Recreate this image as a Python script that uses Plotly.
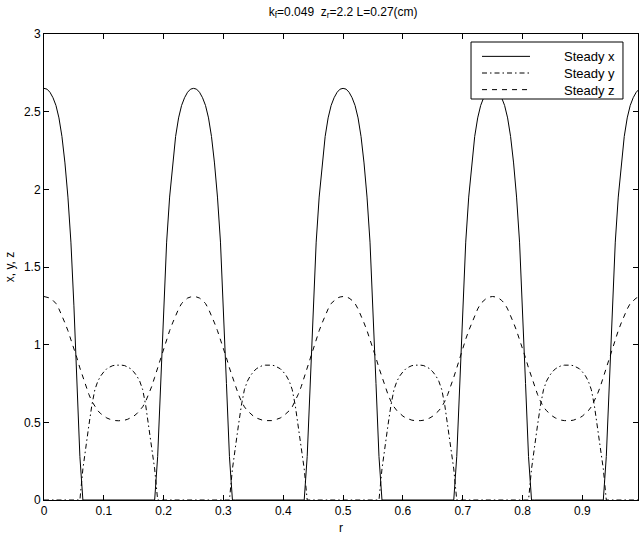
import plotly.graph_objects as go

# radial coordinate, 0 to 1 in steps of 0.005
r = [round(i * 0.005, 3) for i in range(201)]

# steady-state profiles (one row per quarter period of r)
steady_x = [
    2.65, 2.645, 2.625, 2.59, 2.54, 2.46, 2.34, 2.17, 1.95, 1.66, 1.25, 0.75, 0.28,
    0, 0, 0, 0, 0, 0, 0, 0, 0, 0, 0, 0, 0, 0, 0, 0, 0, 0, 0, 0, 0, 0, 0, 0, 0,
    0.28, 0.75, 1.25, 1.66, 1.95, 2.17, 2.34, 2.46, 2.54, 2.59, 2.625, 2.645,
    2.65, 2.645, 2.625, 2.59, 2.54, 2.46, 2.34, 2.17, 1.95, 1.66, 1.25, 0.75, 0.28,
    0, 0, 0, 0, 0, 0, 0, 0, 0, 0, 0, 0, 0, 0, 0, 0, 0, 0, 0, 0, 0, 0, 0, 0, 0,
    0.28, 0.75, 1.25, 1.66, 1.95, 2.17, 2.34, 2.46, 2.54, 2.59, 2.625, 2.645,
    2.65, 2.645, 2.625, 2.59, 2.54, 2.46, 2.34, 2.17, 1.95, 1.66, 1.25, 0.75, 0.28,
    0, 0, 0, 0, 0, 0, 0, 0, 0, 0, 0, 0, 0, 0, 0, 0, 0, 0, 0, 0, 0, 0, 0, 0, 0,
    0.28, 0.75, 1.25, 1.66, 1.95, 2.17, 2.34, 2.46, 2.54, 2.59, 2.625, 2.645,
    2.65, 2.645, 2.625, 2.59, 2.54, 2.46, 2.34, 2.17, 1.95, 1.66, 1.25, 0.75, 0.28,
    0, 0, 0, 0, 0, 0, 0, 0, 0, 0, 0, 0, 0, 0, 0, 0, 0, 0, 0, 0, 0, 0, 0, 0, 0,
    0.28, 0.75, 1.25, 1.66, 1.95, 2.17, 2.34, 2.46, 2.54, 2.59, 2.625, 2.645,
    2.65,
]

steady_y = [
    0, 0, 0, 0, 0, 0, 0, 0, 0, 0, 0, 0, 0,
    0.20, 0.35, 0.48, 0.61, 0.71, 0.765, 0.80, 0.825, 0.845, 0.856, 0.865, 0.868, 0.87,
    0.868, 0.865, 0.856, 0.845, 0.825, 0.80, 0.765, 0.71, 0.61, 0.48, 0.35, 0.20,
    0, 0, 0, 0, 0, 0, 0, 0, 0, 0, 0, 0,
    0, 0, 0, 0, 0, 0, 0, 0, 0, 0, 0, 0, 0,
    0.20, 0.35, 0.48, 0.61, 0.71, 0.765, 0.80, 0.825, 0.845, 0.856, 0.865, 0.868, 0.87,
    0.868, 0.865, 0.856, 0.845, 0.825, 0.80, 0.765, 0.71, 0.61, 0.48, 0.35, 0.20,
    0, 0, 0, 0, 0, 0, 0, 0, 0, 0, 0, 0,
    0, 0, 0, 0, 0, 0, 0, 0, 0, 0, 0, 0, 0,
    0.20, 0.35, 0.48, 0.61, 0.71, 0.765, 0.80, 0.825, 0.845, 0.856, 0.865, 0.868, 0.87,
    0.868, 0.865, 0.856, 0.845, 0.825, 0.80, 0.765, 0.71, 0.61, 0.48, 0.35, 0.20,
    0, 0, 0, 0, 0, 0, 0, 0, 0, 0, 0, 0,
    0, 0, 0, 0, 0, 0, 0, 0, 0, 0, 0, 0, 0,
    0.20, 0.35, 0.48, 0.61, 0.71, 0.765, 0.80, 0.825, 0.845, 0.856, 0.865, 0.868, 0.87,
    0.868, 0.865, 0.856, 0.845, 0.825, 0.80, 0.765, 0.71, 0.61, 0.48, 0.35, 0.20,
    0, 0, 0, 0, 0, 0, 0, 0, 0, 0, 0, 0,
    0,
]

steady_z = [
    1.31, 1.307, 1.30, 1.285, 1.265, 1.23, 1.19, 1.14, 1.09, 1.035, 0.98, 0.915, 0.85,
    0.79, 0.73, 0.68, 0.635, 0.60, 0.575, 0.555, 0.54, 0.528, 0.52, 0.514, 0.511, 0.51,
    0.511, 0.514, 0.52, 0.528, 0.54, 0.555, 0.575, 0.60, 0.635, 0.68, 0.73, 0.79,
    0.85, 0.915, 0.98, 1.035, 1.09, 1.14, 1.19, 1.23, 1.265, 1.285, 1.30, 1.307,
    1.31, 1.307, 1.30, 1.285, 1.265, 1.23, 1.19, 1.14, 1.09, 1.035, 0.98, 0.915, 0.85,
    0.79, 0.73, 0.68, 0.635, 0.60, 0.575, 0.555, 0.54, 0.528, 0.52, 0.514, 0.511, 0.51,
    0.511, 0.514, 0.52, 0.528, 0.54, 0.555, 0.575, 0.60, 0.635, 0.68, 0.73, 0.79,
    0.85, 0.915, 0.98, 1.035, 1.09, 1.14, 1.19, 1.23, 1.265, 1.285, 1.30, 1.307,
    1.31, 1.307, 1.30, 1.285, 1.265, 1.23, 1.19, 1.14, 1.09, 1.035, 0.98, 0.915, 0.85,
    0.79, 0.73, 0.68, 0.635, 0.60, 0.575, 0.555, 0.54, 0.528, 0.52, 0.514, 0.511, 0.51,
    0.511, 0.514, 0.52, 0.528, 0.54, 0.555, 0.575, 0.60, 0.635, 0.68, 0.73, 0.79,
    0.85, 0.915, 0.98, 1.035, 1.09, 1.14, 1.19, 1.23, 1.265, 1.285, 1.30, 1.307,
    1.31, 1.307, 1.30, 1.285, 1.265, 1.23, 1.19, 1.14, 1.09, 1.035, 0.98, 0.915, 0.85,
    0.79, 0.73, 0.68, 0.635, 0.60, 0.575, 0.555, 0.54, 0.528, 0.52, 0.514, 0.511, 0.51,
    0.511, 0.514, 0.52, 0.528, 0.54, 0.555, 0.575, 0.60, 0.635, 0.68, 0.73, 0.79,
    0.85, 0.915, 0.98, 1.035, 1.09, 1.14, 1.19, 1.23, 1.265, 1.285, 1.30, 1.307,
    1.31,
]

series_names = ["Steady x", "Steady y", "Steady z"]
series_dash = ["solid", "5px,3px,1.5px,3px", "5px,5px"]

x_ticks = [0, 0.1, 0.2, 0.3, 0.4, 0.5, 0.6, 0.7, 0.8, 0.9]
x_tick_text = ["0", "0.1", "0.2", "0.3", "0.4", "0.5", "0.6", "0.7", "0.8", "0.9"]
y_ticks = [0, 0.5, 1, 1.5, 2, 2.5, 3]
y_tick_text = ["0", "0.5", "1", "1.5", "2", "2.5", "3"]

FONT = "Liberation Sans, Arial, Helvetica, sans-serif"

fig = go.Figure()
for name, values, dash in zip(series_names, [steady_x, steady_y, steady_z], series_dash):
    fig.add_trace(go.Scatter(x=r, y=values, mode="lines", name=name,
                             line=dict(color="black", width=1, dash=dash)))

# boxed key in the upper right, MATLAB style: line sample left, labels right-aligned
key_box = dict(x0=0.7189, x1=0.9747, y0=0.8605, y1=0.9828)
key_rows = [0.9520, 0.9163, 0.8806]
fig.add_shape(type="rect", xref="paper", yref="paper", **key_box,
              line=dict(color="black", width=1), fillcolor="white", layer="above")
for dash, ky in zip(series_dash, key_rows):
    fig.add_shape(type="line", xref="paper", yref="paper",
                  x0=0.7374, x1=0.8182, y0=ky, y1=ky, layer="above",
                  line=dict(color="black", width=1, dash=dash))
fig.add_annotation(xref="paper", yref="paper", x=0.9646, y=key_rows[1],
                   xanchor="right", yanchor="middle", align="right", showarrow=False,
                   text="<br>".join(series_names),
                   font=dict(family=FONT, size=13, color="black"))

axis_common = dict(
    showline=True, linecolor="black", linewidth=1, mirror="ticks",
    ticks="inside", ticklen=5, tickcolor="black", tickwidth=1,
    showgrid=False, zeroline=False,
    tickfont=dict(family=FONT, size=12, color="black"),
)

fig.update_layout(
    width=639, height=535,
    margin=dict(l=44, r=1, t=34, b=35),
    paper_bgcolor="white", plot_bgcolor="white",
    font=dict(family=FONT, color="black"),
    title=dict(text="k<sub>f</sub>=0.049  z<sub>r</sub>=2.2 L=0.27(cm)",
               x=0.537, xanchor="center", y=0.978, yanchor="middle",
               font=dict(family=FONT, size=12, color="black")),
    xaxis=dict(range=[0, 0.993], tickvals=x_ticks, ticktext=x_tick_text,
               title=dict(text="r", font=dict(family=FONT, size=12), standoff=6),
               **axis_common),
    yaxis=dict(range=[0, 3], tickvals=y_ticks, ticktext=y_tick_text,
               title=dict(text="x, y, z", font=dict(family=FONT, size=12), standoff=6),
               **axis_common),
    showlegend=False,
)

fig.write_html("out.html")
